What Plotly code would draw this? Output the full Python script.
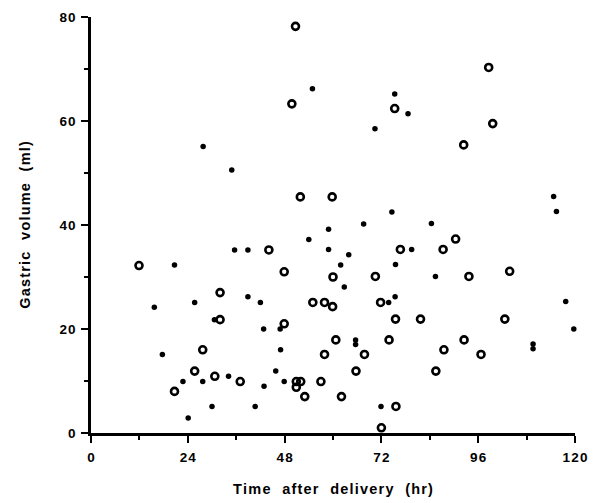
import plotly.graph_objects as go

# Open circles (one group)
open_hr = [11.9, 32.0, 50.7, 49.8, 75.3, 98.6, 99.6, 92.4, 51.9, 59.8, 44.1, 76.7,
           47.9, 60.0, 70.5, 55.0, 57.9, 59.9, 71.8, 90.4, 87.3, 93.7, 103.8,
           32.0, 27.7, 25.7, 30.7, 37.0, 20.7, 75.5, 47.9, 60.7, 73.9, 57.9, 67.8,
           65.7, 50.9, 52.0, 50.9, 57.0, 53.0, 62.1, 75.6, 72.0, 81.7, 102.6,
           92.5, 87.5, 96.7, 85.5]
open_ml = [32.2, 27.0, 78.2, 63.3, 62.4, 70.3, 59.5, 55.4, 45.4, 45.4, 35.2, 35.3,
           31.0, 30.0, 30.1, 25.1, 25.1, 24.3, 25.1, 37.3, 35.3, 30.1, 31.1,
           21.8, 16.0, 11.9, 10.9, 9.9, 8.0, 21.9, 21.0, 17.9, 17.9, 15.1, 15.1,
           11.9, 9.9, 9.9, 8.8, 9.9, 7.0, 7.0, 5.1, 1.0, 21.9, 21.9,
           17.9, 16.0, 15.1, 11.9]

# Filled dots (other group)
dot_hr = [27.8, 34.9, 54.9, 75.3, 78.6, 70.4, 35.6, 38.9, 20.7, 38.9, 15.7, 25.7,
          74.6, 67.6, 58.9, 54.0, 58.9, 63.9, 61.9, 75.5, 62.8, 42.0, 73.8, 75.4,
          84.4, 79.5, 85.4, 114.7, 115.4, 117.7, 30.6, 17.7, 22.8, 27.7, 34.1,
          30.0, 24.1, 42.8, 46.9, 65.6, 65.6, 47.0, 45.8, 47.9, 42.9, 40.7, 71.9,
          119.7, 109.6, 109.6]
dot_ml = [55.1, 50.6, 66.2, 65.2, 61.4, 58.5, 35.2, 35.2, 32.3, 26.2, 24.2, 25.1,
          42.5, 40.2, 39.2, 37.2, 35.3, 34.3, 32.3, 32.4, 28.1, 25.1, 25.1, 26.2,
          40.3, 35.3, 30.1, 45.5, 42.6, 25.3, 21.8, 15.1, 9.9, 9.9, 10.9,
          5.1, 2.9, 20.0, 20.0, 17.9, 17.0, 16.0, 11.9, 9.9, 9.0, 5.1, 5.1,
          20.0, 17.1, 16.2]

x_ticks = [0, 24, 48, 72, 96, 120]
y_ticks = [0, 20, 40, 60, 80]
x_title = "Time  after  delivery  (hr)"
y_title = "Gastric  volume  (ml)"


def spaced(s):
    # widen letter spacing like the original typeset labels
    return "\u200a".join(ch if ch != " " else "\u00a0" for ch in s)


fig = go.Figure()
fig.add_trace(go.Scatter(
    x=dot_hr, y=dot_ml, mode="markers", cliponaxis=False,
    marker=dict(symbol="circle", size=5.5, color="black", line=dict(width=0)),
    showlegend=False))
fig.add_trace(go.Scatter(
    x=open_hr, y=open_ml, mode="markers", cliponaxis=False,
    marker=dict(symbol="circle-open", size=7, color="black", line=dict(width=2.6)),
    showlegend=False))

fam = "Liberation Sans, Arial, sans-serif"

fig.update_layout(
    width=597, height=503,
    margin=dict(l=91, r=22, t=17, b=70),
    plot_bgcolor="white", paper_bgcolor="white",
    font=dict(family=fam, size=12, color="black"),
    xaxis=dict(
        range=[0, 120], tickvals=x_ticks, ticktext=[spaced(str(v)) for v in x_ticks],
        showgrid=False, zeroline=False,
        showline=True, linecolor="black", linewidth=2.5,
        ticks="outside", ticklen=7, tickwidth=2, tickcolor="black",
        ticklabelstandoff=3,
        minor=dict(tickvals=[12, 36, 60, 84, 108], ticks="outside", ticklen=4,
                   tickwidth=1.5, tickcolor="black", showgrid=False),
        tickfont=dict(size=13.5, family=fam, weight="bold", color="black"),
        title=dict(text=spaced(x_title), standoff=20,
                   font=dict(size=14.5, family=fam, weight="bold", color="black")),
        automargin=False,
    ),
    yaxis=dict(
        range=[0, 80], tickvals=y_ticks, ticktext=[spaced(str(v)) for v in y_ticks],
        showgrid=False, zeroline=False,
        showline=True, linecolor="black", linewidth=2.5,
        ticks="outside", ticklen=7, tickwidth=2, tickcolor="black",
        ticklabelstandoff=3,
        minor=dict(tickvals=[10, 30, 50, 70], ticks="outside", ticklen=4,
                   tickwidth=1.5, tickcolor="black", showgrid=False),
        tickfont=dict(size=13.5, family=fam, weight="bold", color="black"),
        title=dict(text=spaced(y_title), standoff=26,
                   font=dict(size=14.5, family=fam, weight="bold", color="black")),
        automargin=False,
    ),
)

fig.write_html("out.html", config={"displayModeBar": False},
               post_script="document.body.style.margin='0';")
